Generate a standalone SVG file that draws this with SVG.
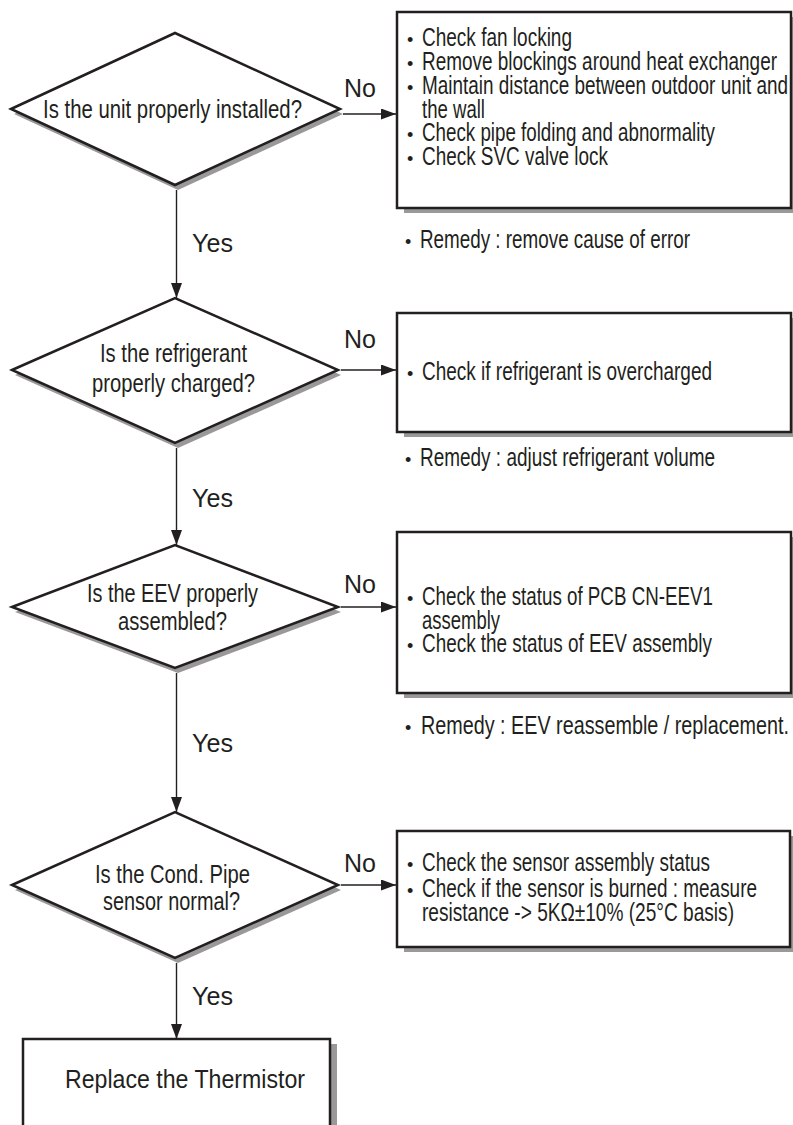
<svg xmlns="http://www.w3.org/2000/svg" width="793" height="1125" viewBox="0 0 793 1125">
<style>
text { font-family: "Liberation Sans", Arial, sans-serif; fill: #231f20; font-size: 26px; }
.b { font-size: 18px; }
.lbl { font-size: 26.5px; }
.shape { fill: #ffffff; stroke: #231f20; stroke-width: 2.5; stroke-linejoin: miter; }
.shadow { fill: #999999; }
.conn { stroke: #231f20; stroke-width: 1.4; fill: none; marker-end: url(#arr); }
</style>
<defs>
<marker id="arr" markerUnits="userSpaceOnUse" markerWidth="15" markerHeight="11" refX="15" refY="5.5" orient="auto"><path d="M0,0 L15,5.5 L0,11 z" fill="#231f20"/></marker>
</defs>
<rect x="0" y="0" width="793" height="1125" fill="#ffffff"/>

<g id="connectors">
<path class="conn" d="M176.5,190 V298"/>
<path class="conn" d="M176.5,448 V545"/>
<path class="conn" d="M176.5,673 V812"/>
<path class="conn" d="M176.5,963 V1039"/>
<path class="conn" d="M343,114 H396"/>
<path class="conn" d="M341,370 H396"/>
<path class="conn" d="M341,607 H396"/>
<path class="conn" d="M341,885 H396"/>
</g>

<g id="labels">
<text class="lbl" x="344" y="97" textLength="32" lengthAdjust="spacingAndGlyphs">No</text>
<text class="lbl" x="344" y="348" textLength="32" lengthAdjust="spacingAndGlyphs">No</text>
<text class="lbl" x="344" y="593" textLength="32" lengthAdjust="spacingAndGlyphs">No</text>
<text class="lbl" x="344" y="872" textLength="32" lengthAdjust="spacingAndGlyphs">No</text>
<text class="lbl" x="192" y="252" textLength="41" lengthAdjust="spacingAndGlyphs">Yes</text>
<text class="lbl" x="192" y="507" textLength="41" lengthAdjust="spacingAndGlyphs">Yes</text>
<text class="lbl" x="192" y="752" textLength="41" lengthAdjust="spacingAndGlyphs">Yes</text>
<text class="lbl" x="192" y="1005" textLength="41" lengthAdjust="spacingAndGlyphs">Yes</text>
</g>

<g id="decision1">
<polygon class="shadow" points="14,114 178,38 343,114 178,190"/>
<polygon class="shape" points="11,109 175,33 340,109 175,185"/>
<text x="43" y="118" font-size="27" textLength="259" lengthAdjust="spacingAndGlyphs">Is the unit properly installed?</text>
</g>

<g id="action1">
<rect class="shadow" x="404" y="17" width="394" height="196"/>
<rect class="shape" x="397" y="12" width="394" height="196"/>
<text y="46"><tspan class="b" x="407">•</tspan><tspan x="422" textLength="150" lengthAdjust="spacingAndGlyphs">Check fan locking</tspan></text>
<text y="70"><tspan class="b" x="407">•</tspan><tspan x="422" textLength="355" lengthAdjust="spacingAndGlyphs">Remove blockings around heat exchanger</tspan></text>
<text y="94"><tspan class="b" x="407">•</tspan><tspan x="422" textLength="366" lengthAdjust="spacingAndGlyphs">Maintain distance between outdoor unit and</tspan></text>
<text y="117.5"><tspan x="422" textLength="63" lengthAdjust="spacingAndGlyphs">the wall</tspan></text>
<text y="141"><tspan class="b" x="407">•</tspan><tspan x="422" textLength="293" lengthAdjust="spacingAndGlyphs">Check pipe folding and abnormality</tspan></text>
<text y="165"><tspan class="b" x="407">•</tspan><tspan x="422" textLength="186" lengthAdjust="spacingAndGlyphs">Check SVC valve lock</tspan></text>
</g>
<g id="remedy1">
<text y="248"><tspan class="b" x="405">•</tspan><tspan x="420" textLength="270" lengthAdjust="spacingAndGlyphs">Remedy : remove cause of error</tspan></text>
</g>

<g id="decision2">
<polygon class="shadow" points="15,375 178,303 341,375 178,448"/>
<polygon class="shape" points="12,370 175,298 338,370 175,443"/>
<text x="100" y="362" textLength="147" lengthAdjust="spacingAndGlyphs">Is the refrigerant</text>
<text x="92" y="392" textLength="163" lengthAdjust="spacingAndGlyphs">properly charged?</text>
</g>

<g id="action2">
<rect class="shadow" x="404" y="318" width="394" height="119"/>
<rect class="shape" x="397" y="313" width="394" height="119"/>
<text y="380"><tspan class="b" x="407">•</tspan><tspan x="422" textLength="290" lengthAdjust="spacingAndGlyphs">Check if refrigerant is overcharged</tspan></text>
</g>
<g id="remedy2">
<text y="466"><tspan class="b" x="405">•</tspan><tspan x="420" textLength="295" lengthAdjust="spacingAndGlyphs">Remedy : adjust refrigerant volume</tspan></text>
</g>

<g id="decision3">
<polygon class="shadow" points="15,612 178,550 341,612 178,673"/>
<polygon class="shape" points="12,607 175,545 338,607 175,668"/>
<text x="87" y="602" textLength="171" lengthAdjust="spacingAndGlyphs">Is the EEV properly</text>
<text x="118" y="630" textLength="109" lengthAdjust="spacingAndGlyphs">assembled?</text>
</g>

<g id="action3">
<rect class="shadow" x="404" y="537" width="394" height="161"/>
<rect class="shape" x="397" y="532" width="394" height="161"/>
<text y="605"><tspan class="b" x="407">•</tspan><tspan x="422" textLength="291" lengthAdjust="spacingAndGlyphs">Check the status of PCB CN-EEV1</tspan></text>
<text y="628.5"><tspan x="422" textLength="78" lengthAdjust="spacingAndGlyphs">assembly</tspan></text>
<text y="652"><tspan class="b" x="407">•</tspan><tspan x="422" textLength="290" lengthAdjust="spacingAndGlyphs">Check the status of EEV assembly</tspan></text>
</g>
<g id="remedy3">
<text y="734"><tspan class="b" x="405">•</tspan><tspan x="421" textLength="368" lengthAdjust="spacingAndGlyphs">Remedy : EEV reassemble / replacement.</tspan></text>
</g>

<g id="decision4">
<polygon class="shadow" points="15,890 178,817 341,890 178,963"/>
<polygon class="shape" points="12,885 175,812 338,885 175,958"/>
<text x="95" y="883" textLength="155" lengthAdjust="spacingAndGlyphs">Is the Cond. Pipe</text>
<text x="103" y="910" textLength="137" lengthAdjust="spacingAndGlyphs">sensor normal?</text>
</g>

<g id="action4">
<rect class="shadow" x="404" y="836" width="393" height="116"/>
<rect class="shape" x="397" y="831" width="393" height="116"/>
<text y="871"><tspan class="b" x="407">•</tspan><tspan x="422" textLength="288" lengthAdjust="spacingAndGlyphs">Check the sensor assembly status</tspan></text>
<text y="896.5"><tspan class="b" x="407">•</tspan><tspan x="422" textLength="335" lengthAdjust="spacingAndGlyphs">Check if the sensor is burned : measure</tspan></text>
<text y="921"><tspan x="422" textLength="312" lengthAdjust="spacingAndGlyphs">resistance -&gt; 5KΩ±10% (25°C basis)</tspan></text>
</g>

<g id="final">
<rect class="shadow" x="30" y="1044" width="307" height="110"/>
<rect class="shape" x="23" y="1039" width="307" height="110"/>
<text x="65" y="1088" font-size="23" textLength="240" lengthAdjust="spacingAndGlyphs">Replace the Thermistor</text>
</g>
</svg>
